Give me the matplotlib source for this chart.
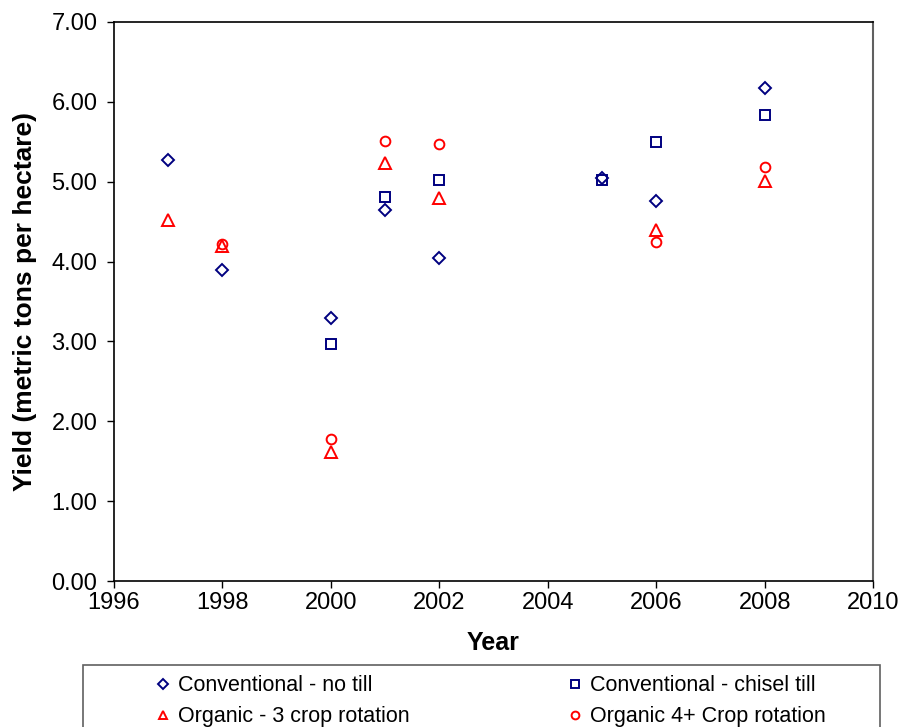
import matplotlib.pyplot as plt
from matplotlib.patches import Rectangle
from matplotlib.ticker import FormatStrFormatter

plt.rcParams['font.family'] = ['Liberation Sans', 'DejaVu Sans']

# yields, metric tons per hectare
notill_years = [1997, 1998, 2000, 2001, 2002, 2005, 2006, 2008]
notill = [5.27, 3.89, 3.29, 4.64, 4.04, 5.04, 4.76, 6.17]

chisel_years = [2000, 2001, 2002, 2005, 2006, 2008]
chisel = [2.97, 4.81, 5.02, 5.02, 5.50, 5.83]

org3_years = [1997, 1998, 2000, 2001, 2002, 2006, 2008]
org3 = [4.52, 4.20, 1.61, 5.24, 4.79, 4.39, 5.01]

org4_years = [1998, 2000, 2001, 2002, 2006, 2008]
org4 = [4.22, 1.78, 5.51, 5.47, 4.25, 5.18]

labels = ['Conventional - no till', 'Conventional - chisel till',
          'Organic - 3 crop rotation', 'Organic 4+ Crop rotation']

navy = '#000080'
red = '#ff0000'

fig = plt.figure(figsize=(9.01, 7.27), dpi=100)
ax = fig.add_axes([0.1265, 0.2008, 0.8425, 0.769])

h1, = ax.plot(notill_years, notill, 'D', ms=6, mfc='none', mec=navy, mew=1.4, linestyle='none')
h2, = ax.plot(chisel_years, chisel, 's', ms=7, mfc='none', mec=navy, mew=1.4, linestyle='none')
h3, = ax.plot(org3_years, org3, '^', ms=8, mfc='none', mec=red, mew=1.4, linestyle='none')
h4, = ax.plot(org4_years, org4, 'o', ms=7, mfc='none', mec=red, mew=1.4, linestyle='none')

ax.set_xlim(1996, 2010)
ax.set_ylim(0, 7)
ax.set_xticks(range(1996, 2011, 2))
ax.set_yticks(range(0, 8))
ax.yaxis.set_major_formatter(FormatStrFormatter('%.2f'))
ax.tick_params(direction='out', length=5, width=1, labelsize=17, pad=7)
ax.tick_params(axis='x', pad=3)

ax.set_xlabel('Year', fontsize=18, fontweight='bold', labelpad=12)
ax.set_ylabel('Yield (metric tons per hectare)', fontsize=19, fontweight='bold', labelpad=10)

for s in ['left', 'bottom', 'top']:
    ax.spines[s].set_linewidth(1.2)
    ax.spines[s].set_color('black')
ax.spines['right'].set_color('#606060')
ax.spines['right'].set_linewidth(1.5)

# legend box under the chart
box = Rectangle((83 / 901, -0.02), 797 / 901, 1 - 665 / 727 + 0.02,
                transform=fig.transFigure, fill=False, edgecolor='#606060', lw=1.2)
fig.patches.append(box)

kw = dict(frameon=False, fontsize=15.5, handlelength=0.8, handletextpad=0.3,
          labelspacing=0.45, borderpad=0, borderaxespad=0, markerscale=0.8,
          loc='upper left', bbox_transform=fig.transFigure)
leg1 = fig.legend([h1, h3], [labels[0], labels[2]], bbox_to_anchor=(0.171, 0.071), **kw)
leg2 = fig.legend([h2, h4], [labels[1], labels[3]], bbox_to_anchor=(0.629, 0.071), **kw)

fig.savefig('out.png', dpi=100)
